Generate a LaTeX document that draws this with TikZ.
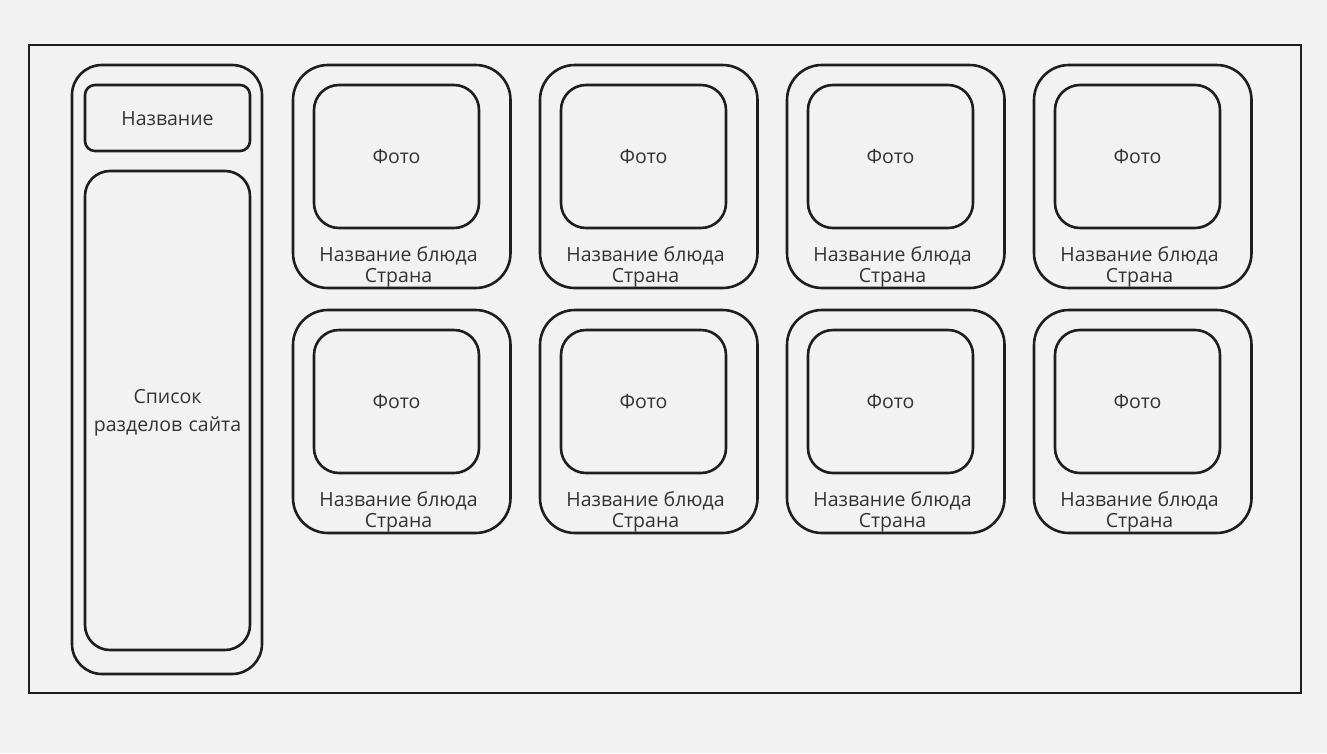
\documentclass[tikz,border=0pt]{standalone}
\usepackage{fontspec}
\setmainfont{Open Sans}
\definecolor{bg}{HTML}{F2F2F2}
\definecolor{ln}{HTML}{1E1E1E}
\definecolor{tx}{HTML}{333333}
\begin{document}
\begin{tikzpicture}[x=1pt,y=-1pt,
  box/.style={draw=ln,line width=2.6pt},
  lbl/.style={text=tx,font=\fontsize{19.5}{21}\selectfont,align=center,inner sep=0pt}]
\fill[bg] (0,0) rectangle (1327,753);
\useasboundingbox (0,0) rectangle (1327,753);
\draw[box] (29,45) rectangle (1301,693);
\draw[box,rounded corners=30pt] (72,65) rectangle (262,674);
\draw[box,rounded corners=10pt] (85,85) rectangle (250,151);
\node[lbl] (title) at (167.5,119) {Название};
\draw[box,rounded corners=25pt] (85,171) rectangle (250,650);
\node[lbl,text width=160pt,font=\fontsize{19.5}{28}\selectfont] (list) at (167.5,413) {Список\\разделов сайта};
\foreach \cx/\i in {293/1,540/2,787/3,1034/4}{
  \foreach \cy/\j in {65/1,310/2}{
    \draw[box,rounded corners=35pt] (\cx,\cy) rectangle ({\cx+217.5},{\cy+223});
    \draw[box,rounded corners=25pt] ({\cx+21},{\cy+20}) rectangle ({\cx+186},{\cy+163});
    \node[lbl] (photo\i\j) at ({\cx+103.5},{\cy+92}) {Фото};
    \node[lbl] (cap\i\j) at ({\cx+105.5},{\cy+202}) {Название блюда\\Страна};
  }
}
\end{tikzpicture}
\end{document}
